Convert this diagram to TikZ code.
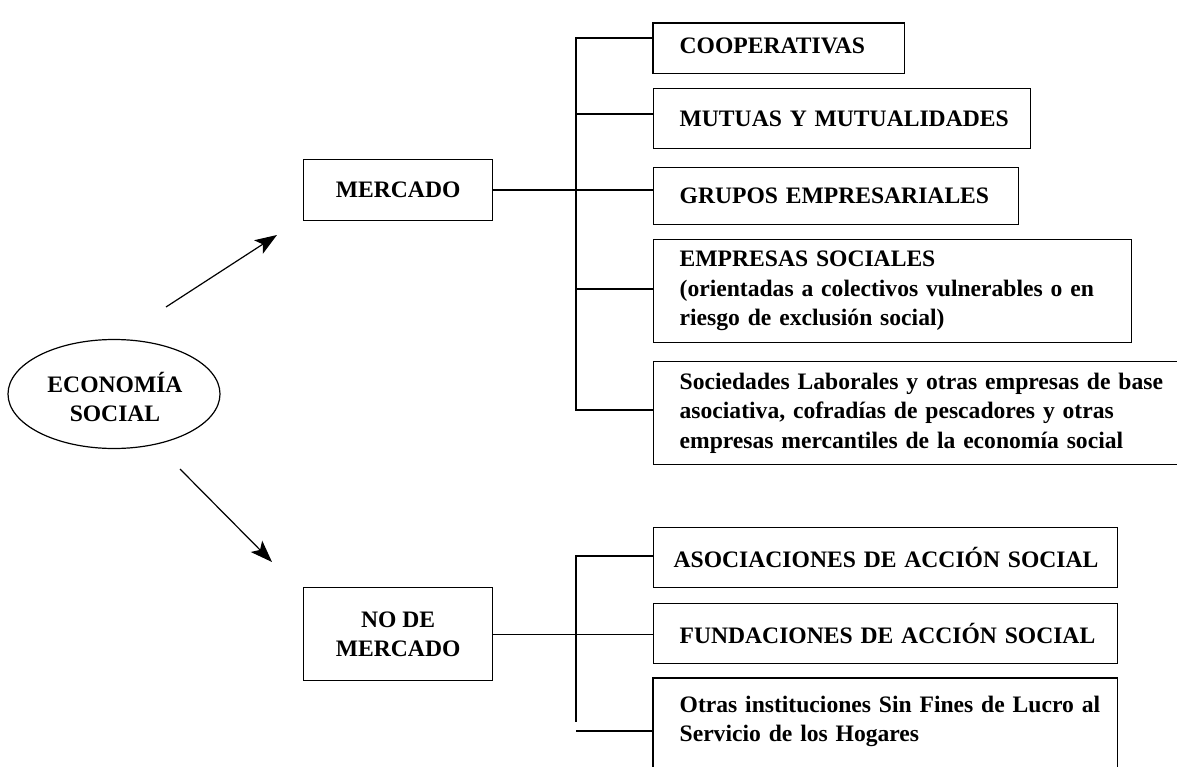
\documentclass[tikz,border=0pt]{standalone}
\usepackage{fontspec}
\setmainfont{Liberation Serif}
\usetikzlibrary{arrows.meta,shapes.geometric}
\begin{document}
\begin{tikzpicture}[x=1pt,y=-1pt,
  every node/.style={font=\fontsize{23.6}{29.5}\selectfont\bfseries},
  box/.style={draw,line width=1.3pt,rectangle,anchor=north west,inner xsep=26pt,inner ysep=0pt,align=left},
  cbox/.style={draw,line width=1.3pt,rectangle,anchor=north west,inner sep=0pt,align=center},
  conn/.style={line width=1.3pt},
  arr/.style={line width=1.2pt,-{Stealth[length=22pt,width=16pt,inset=5pt]}}
]
\useasboundingbox (0,0) rectangle (1177,767);
\clip (0,0) rectangle (1177,767);
% ellipse
\node[align=center,inner sep=0pt] (eco) at (115,397) {ECONOM\'IA\\SOCIAL};
\coordinate (ecoc) at (114,394);
\draw[line width=1.2pt] (ecoc) ellipse [x radius=106pt, y radius=54.5pt];
% category boxes
\node[cbox,minimum width=189pt,minimum height=61pt] (merc) at (303,159) {MERCADO};
\node[cbox,minimum width=189pt,minimum height=93pt] (nomerc) at (303,587) {NO DE\\MERCADO};
% mercado branch
\node[box,draw=none,minimum height=44pt,text width=198pt] (coop) at (653,23) {\mbox{COOPERATIVAS}};
\draw[line width=1.3pt] (coop.north west) rectangle ([yshift=-5pt]coop.south east);
\node[box,minimum height=60pt,text width=325pt] (mut) at (653,88) {\mbox{MUTUAS Y MUTUALIDADES}};
\node[box,minimum height=57pt,text width=313pt] (grp) at (653,167) {\mbox{GRUPOS EMPRESARIALES}};
\node[box,minimum height=103pt,text width=426pt] (emp) at (653,239) {\mbox{EMPRESAS SOCIALES}\\\mbox{(orientadas a colectivos vulnerables o en}\\\mbox{riesgo de exclusi\'on social)}};
\node[box,minimum height=103pt,text width=480pt] (soc) at (653,361) {\mbox{Sociedades Laborales y otras empresas de base}\\\mbox{asociativa, cofrad\'ias de pescadores y otras}\\\mbox{empresas mercantiles de la econom\'ia social}};
% no de mercado branch
\node[box,inner xsep=20pt,minimum height=60pt,text width=424pt] (asoc) at (653,527) {\mbox{ASOCIACIONES DE ACCI\'ON SOCIAL}};
\node[box,minimum height=60pt,text width=412pt] (fund) at (653,603) {\mbox{FUNDACIONES DE ACCI\'ON SOCIAL}};
\node[box,draw=none,minimum height=86pt,text width=411pt] (otras) at (653,678) {\mbox{Otras instituciones Sin Fines de Lucro al}\\\mbox{Servicio de los Hogares}};
\draw[line width=1.3pt] ([yshift=-20pt]otras.south west) -- (otras.north west) -- (otras.north east) -- ([yshift=-20pt]otras.south east);
% upper tree
\coordinate (t1) at (576,38);
\coordinate (t2) at (576,114);
\coordinate (t4) at (576,289);
\coordinate (t5) at (576,410);
\draw[conn] (t1 -| coop.west) -- (t1) -- (t5) -- (t5 -| soc.west);
\draw[conn] (t2) -- (t2 -| mut.west);
\draw[conn] (merc.east) -- (merc.east -| grp.west);
\draw[conn] (t4) -- (t4 -| emp.west);
% lower tree
\coordinate (b1) at (576,556);
\coordinate (b3) at (576,722);
\coordinate (b4) at (576,731);
\draw[conn] (b1 -| asoc.west) -- (b1) -- (b3);
\draw[conn] (nomerc.east) -- (nomerc.east -| fund.west);
\draw[conn] (b4) -- (b4 -| otras.west);
% arrows
\coordinate (a1s) at (166,307);
\coordinate (a1e) at (277,235);
\coordinate (a2s) at (180,469);
\coordinate (a2e) at (272,562);
\draw[arr] (a1s) -- (a1e);
\draw[arr] (a2s) -- (a2e);
\end{tikzpicture}
\end{document}
